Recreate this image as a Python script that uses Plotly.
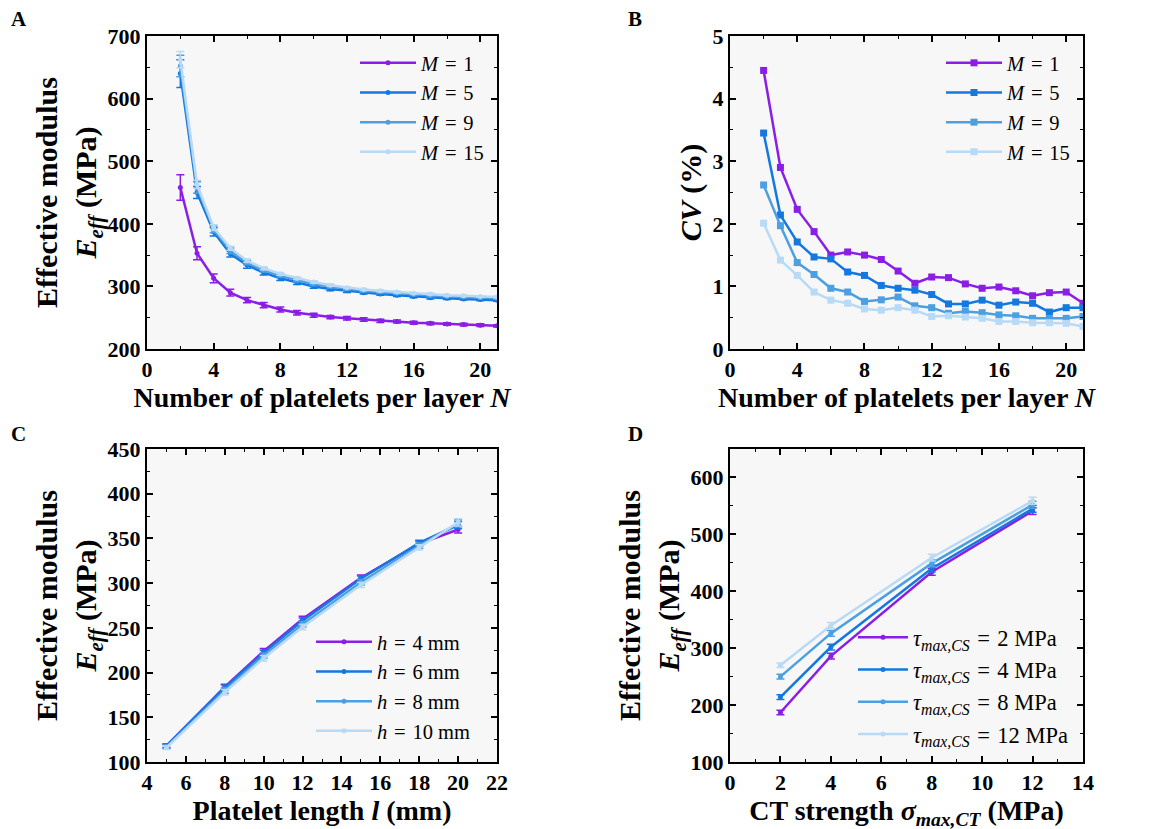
import plotly.graph_objects as go

# ---------------- data ----------------
N = list(range(2, 22))
M_labels = ["1", "5", "9", "15"]
E_A = {
    "1":  [458, 353, 313, 290, 278, 270, 263, 258, 254, 251, 249, 247, 245, 244, 242, 241, 240, 239, 238, 237],
    "5":  [640, 450, 387, 352, 334, 322, 313, 306, 300, 296, 293, 290, 288, 286, 284, 282, 281, 280, 279, 278],
    "9":  [652, 458, 391, 357, 338, 326, 317, 310, 304, 300, 296, 293, 291, 289, 287, 285, 284, 283, 282, 281],
    "15": [662, 463, 394, 361, 341, 329, 320, 313, 307, 302, 298, 295, 293, 291, 289, 288, 286, 285, 284, 283],
}
CV_B = {
    "1":  [4.45, 2.90, 2.23, 1.875, 1.50, 1.55, 1.50, 1.43, 1.245, 1.05, 1.15, 1.14, 1.04, 0.97, 0.99, 0.93, 0.85, 0.90, 0.91, 0.73],
    "5":  [3.45, 2.14, 1.71, 1.47, 1.44, 1.23, 1.175, 1.015, 0.97, 0.94, 0.87, 0.72, 0.72, 0.78, 0.70, 0.75, 0.73, 0.59, 0.66, 0.66],
    "9":  [2.62, 1.97, 1.38, 1.19, 0.97, 0.91, 0.76, 0.785, 0.83, 0.69, 0.66, 0.57, 0.60, 0.58, 0.545, 0.53, 0.49, 0.49, 0.49, 0.52],
    "15": [2.01, 1.42, 1.175, 0.91, 0.78, 0.73, 0.64, 0.62, 0.66, 0.62, 0.52, 0.53, 0.51, 0.49, 0.44, 0.44, 0.42, 0.42, 0.41, 0.36],
}
L_C = [5, 8, 10, 12, 15, 18, 20]
h_labels = ["4", "6", "8", "10"]
E_C = {
    "4":  [118, 184, 224, 260, 306, 344, 360],
    "6":  [118, 183, 222, 258, 305, 345, 365],
    "8":  [117, 180, 219, 254, 301, 342, 367],
    "10": [116, 178, 216, 251, 298, 340, 368],
}
ERR_C = [2, 3, 3, 3, 3, 3, 4]
S_D = [2, 4, 8, 12]
tau_labels = ["2", "4", "8", "12"]
E_D = {
    "2":  [187, 286, 434, 541],
    "4":  [214, 302, 440, 545],
    "8":  [250, 326, 449, 552],
    "12": [270, 340, 459, 559],
}
ERR_D = [4, 5, 6, 6]

colors = ["#8a1ee6", "#1478e0", "#4c9fe0", "#b8daf7"]
FONT = "Liberation Serif"
EQ = "&#8202;=&#8202;"

W, H, OFF = 1149, 829, 8   # page body margin offset
def px(x):
    return (x - OFF) / W
def py(y):
    return 1 - (y - OFF) / H

fig = go.Figure()

# Panel A
for i, m in enumerate(M_labels):
    err = [e * c / 100 for e, c in zip(E_A[m], CV_B[m])]
    fig.add_trace(go.Scatter(
        x=N, y=E_A[m], mode="lines+markers", name=f"<i>M</i> {EQ} {m}",
        line=dict(color=colors[i], width=2.5), marker=dict(size=5, color=colors[i]),
        error_y=dict(type="data", array=err, color=colors[i], thickness=1.5, width=4),
        xaxis="x", yaxis="y", legend="legend"))
# Panel B
for i, m in enumerate(M_labels):
    fig.add_trace(go.Scatter(
        x=N, y=CV_B[m], mode="lines+markers", name=f"<i>M</i> {EQ} {m}",
        line=dict(color=colors[i], width=2.5), marker=dict(size=7, symbol="square", color=colors[i]),
        xaxis="x2", yaxis="y2", legend="legend2"))
# Panel C
for i, h in enumerate(h_labels):
    fig.add_trace(go.Scatter(
        x=L_C, y=E_C[h], mode="lines+markers", name=f"<i>h</i> {EQ} {h} mm",
        line=dict(color=colors[i], width=2.5), marker=dict(size=5, color=colors[i]),
        error_y=dict(type="data", array=ERR_C, color=colors[i], thickness=1.5, width=4),
        xaxis="x3", yaxis="y3", legend="legend3"))
# Panel D
for i, t in enumerate(tau_labels):
    fig.add_trace(go.Scatter(
        x=S_D, y=E_D[t], mode="lines+markers", name=f"<i>τ<sub>max,CS</sub></i> {EQ} {t} MPa",
        line=dict(color=colors[i], width=2.5), marker=dict(size=5, color=colors[i]),
        error_y=dict(type="data", array=ERR_D, color=colors[i], thickness=1.5, width=4),
        xaxis="x4", yaxis="y4", legend="legend4"))

tickfont = dict(family=FONT, size=22, color="black", weight="bold")
xtitlefont = dict(family=FONT, size=28, color="black", weight="bold")
ytitlefont = dict(family=FONT, size=30, color="black", weight="bold")

def ax(domain, rng, dtick, mdtick, title, anchor, isy, standoff):
    d = dict(domain=domain, range=rng, dtick=dtick, tick0=0, showgrid=False, zeroline=False,
             showline=True, linecolor="black", linewidth=2, mirror="ticks",
             ticks="inside", ticklen=6, tickwidth=1.5, tickcolor="black",
             minor=dict(dtick=mdtick, ticks="inside", ticklen=3, tickwidth=1, tickcolor="black"),
             tickfont=tickfont, anchor=anchor, automargin=False,
             title=dict(text=title, font=ytitlefont if isy else xtitlefont, standoff=standoff))
    return d

xdomL = [px(147), px(497)]
xdomR = [px(730), px(1083)]
ydomT = [py(349), py(36)]
ydomB = [py(762), py(449)]

yt = "Effective modulus<br><i>E<sub>eff</sub></i> (MPa)"
fig.update_layout(
    template="none",
    width=W, height=H, margin=dict(l=0, r=0, t=0, b=0, pad=0),
    paper_bgcolor="white", plot_bgcolor="#f7f7f7",
    showlegend=True,
    xaxis=ax(xdomL, [0, 21], 4, 2, "Number of platelets per layer <i>N</i>", "y", False, 2),
    yaxis=ax(ydomT, [200, 700], 100, 50, yt, "x", True, 0),
    xaxis2=ax(xdomR, [0, 21], 4, 2, "Number of platelets per layer <i>N</i>", "y2", False, 2),
    yaxis2=ax(ydomT, [0, 5], 1, 0.5, "<i>CV</i> (%)", "x2", True, 2),
    xaxis3=ax(xdomL, [4, 22], 2, 1, "Platelet length <i>l</i> (mm)", "y3", False, 2),
    yaxis3=ax(ydomB, [100, 450], 50, 25, yt, "x3", True, 0),
    xaxis4=ax(xdomR, [0, 14], 2, 1, "CT strength <i>σ<sub>max,CT</sub></i> (MPa)", "y4", False, 2),
    yaxis4=ax(ydomB, [100, 650], 100, 50, yt, "x4", True, 0),
)
def leg(x, y, size, iw):
    return dict(x=x, y=y, xanchor="left", yanchor="top", xref="paper", yref="paper",
                bgcolor="rgba(0,0,0,0)", borderwidth=0,
                font=dict(family=FONT, size=size, color="black"), itemwidth=iw,
                tracegroupgap=0)
fig.update_layout(
    legend=leg(px(355), py(43), 20.5, 56),
    legend2=leg(px(941), py(43), 20.5, 56),
    legend3=leg(px(311), py(622), 20.5, 56),
    legend4=leg(px(853), py(616), 22.5, 50),
)

for txt, x, y in [("A", 9, 5), ("B", 626, 5), ("C", 9, 420), ("D", 626, 420)]:
    fig.add_annotation(text=f"<b>{txt}</b>", x=px(x), y=py(y), xref="paper", yref="paper",
                       xanchor="left", yanchor="top", showarrow=False,
                       font=dict(family=FONT, size=21, color="black"))

fig.write_html("out.html")
